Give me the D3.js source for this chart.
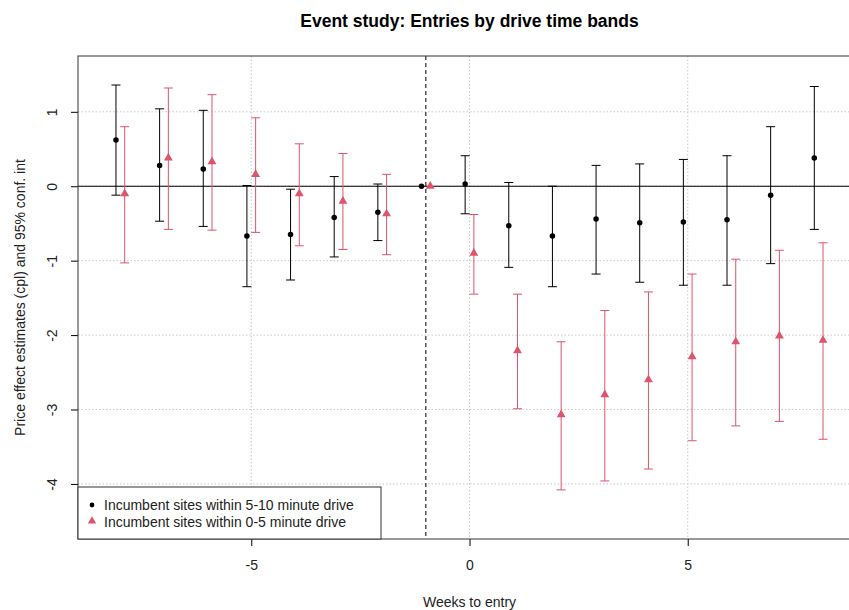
<!DOCTYPE html>
<html>
<head>
<meta charset="utf-8">
<script src="https://cdn.jsdelivr.net/npm/d3@7"></script>
<style>
  body { margin: 0; background: #fff; }
  text { font-family: "Liberation Sans", Arial, sans-serif; }
</style>
</head>
<body>
<script>
// Event study data
var weeks = [-8, -7, -6, -5, -4, -3, -2, -1, 0, 1, 2, 3, 4, 5, 6, 7, 8];

// Incumbent sites within 5-10 minute drive
var farEst = [0.62, 0.28, 0.23, -0.67, -0.65, -0.42, -0.35, 0, 0.03, -0.53, -0.67, -0.44, -0.49, -0.48, -0.45, -0.12, 0.38];
var farLo  = [-0.12, -0.47, -0.54, -1.35, -1.26, -0.95, -0.73, null, -0.37, -1.09, -1.35, -1.18, -1.29, -1.33, -1.33, -1.04, -0.58];
var farHi  = [1.36, 1.04, 1.02, 0.01, -0.04, 0.13, 0.03, null, 0.41, 0.05, 0.0, 0.28, 0.30, 0.36, 0.41, 0.80, 1.34];

// Incumbent sites within 0-5 minute drive
var nearEst = [-0.10, 0.38, 0.33, 0.16, -0.10, -0.20, -0.37, 0, -0.90, -2.21, -3.07, -2.80, -2.60, -2.29, -2.09, -2.01, -2.07];
var nearLo  = [-1.03, -0.58, -0.59, -0.62, -0.80, -0.85, -0.92, null, -1.45, -2.99, -4.08, -3.96, -3.80, -3.42, -3.22, -3.16, -3.40];
var nearHi  = [0.80, 1.32, 1.23, 0.92, 0.57, 0.44, 0.16, null, -0.38, -1.45, -2.09, -1.67, -1.42, -1.18, -0.98, -0.86, -0.76];

var xTicks = [-5, 0, 5];
var yTicks = [1, 0, -1, -2, -3, -4];
var legendLabels = ["Incumbent sites within 5-10 minute drive", "Incumbent sites within 0-5 minute drive"];

var width = 849,
    height = 610;
var margin = {top: 56, right: -12, bottom: 71, left: 78};
var red = "#DF536B";

var svg = d3.select("body").append("svg")
    .attr("width", width)
    .attr("height", height);

var x = d3.scaleLinear()
    .domain([-8.97, 8.97])
    .range([margin.left, width - margin.right]);

var y = d3.scaleLinear()
    .domain([-4.74, 1.75])
    .range([height - margin.bottom, margin.top]);

// grid lines (dotted)
svg.append("g").selectAll("line")
    .data(xTicks)
    .enter().append("line")
    .attr("x1", function(d) { return x(d); })
    .attr("x2", function(d) { return x(d); })
    .attr("y1", y.range()[1])
    .attr("y2", y.range()[0])
    .style("stroke", "#c8c8c8")
    .style("stroke-dasharray", "1.5,2");

svg.append("g").selectAll("line")
    .data(yTicks)
    .enter().append("line")
    .attr("x1", x.range()[0])
    .attr("x2", x.range()[1])
    .attr("y1", function(d) { return y(d); })
    .attr("y2", function(d) { return y(d); })
    .style("stroke", "#c8c8c8")
    .style("stroke-dasharray", "1.5,2");

// zero line and entry marker
svg.append("line")
    .attr("x1", x.range()[0]).attr("x2", x.range()[1])
    .attr("y1", y(0)).attr("y2", y(0))
    .style("stroke", "black");

svg.append("line")
    .attr("x1", x(-1)).attr("x2", x(-1))
    .attr("y1", y.range()[1]).attr("y2", y.range()[0])
    .style("stroke", "black")
    .style("stroke-dasharray", "4,3");

// axes
var xAxis = d3.axisBottom(x).tickValues(xTicks).tickSize(7).tickPadding(14)
    .tickFormat(function(d) { return d; });
var gx = svg.append("g")
    .attr("transform", "translate(0," + y.range()[0] + ")")
    .call(xAxis);
gx.select(".domain").remove();
gx.selectAll("text").style("font-size", "14px").style("fill", "#222");

var yAxis = d3.axisLeft(y).tickValues(yTicks).tickSize(7).tickFormat(function(d) { return d; });
var gy = svg.append("g")
    .attr("transform", "translate(" + x.range()[0] + ",0)")
    .call(yAxis);
gy.select(".domain").remove();
gy.selectAll("text")
    .attr("x", null).attr("dy", null)
    .attr("transform", "translate(-26,0) rotate(-90)")
    .attr("text-anchor", "middle")
    .attr("dominant-baseline", "central")
    .style("font-size", "14px").style("fill", "#222");

// plot frame
svg.append("rect")
    .attr("x", x.range()[0])
    .attr("y", y.range()[1])
    .attr("width", x.range()[1] - x.range()[0])
    .attr("height", y.range()[0] - y.range()[1])
    .style("fill", "none")
    .style("stroke", "#333");

// error bars + points
function drawSeries(est, lo, hi, offset, color, shape) {
  var rows = weeks.map(function(w, i) { return {w: w + offset, est: est[i], lo: lo[i], hi: hi[i]}; });
  var bars = rows.filter(function(d) { return d.lo !== null; });
  var g = svg.append("g").style("stroke", color);
  g.selectAll(".v").data(bars).enter().append("line")
    .attr("x1", function(d) { return x(d.w); })
    .attr("x2", function(d) { return x(d.w); })
    .attr("y1", function(d) { return y(d.lo); })
    .attr("y2", function(d) { return y(d.hi); });
  g.selectAll(".lo").data(bars).enter().append("line")
    .attr("x1", function(d) { return x(d.w) - 4.5; })
    .attr("x2", function(d) { return x(d.w) + 4.5; })
    .attr("y1", function(d) { return y(d.lo); })
    .attr("y2", function(d) { return y(d.lo); });
  g.selectAll(".hi").data(bars).enter().append("line")
    .attr("x1", function(d) { return x(d.w) - 4.5; })
    .attr("x2", function(d) { return x(d.w) + 4.5; })
    .attr("y1", function(d) { return y(d.hi); })
    .attr("y2", function(d) { return y(d.hi); });
  svg.append("g").selectAll("path").data(rows).enter().append("path")
    .attr("d", d3.symbol().type(shape).size(shape === d3.symbolCircle ? 24 : 34))
    .attr("transform", function(d) { return "translate(" + x(d.w) + "," + y(d.est) + ")"; })
    .style("fill", color);
}
drawSeries(farEst, farLo, farHi, -0.1, "black", d3.symbolCircle);
drawSeries(nearEst, nearLo, nearHi, 0.1, red, d3.symbolTriangle);

// legend
var leg = svg.append("g");
leg.append("rect")
    .attr("x", x.range()[0]).attr("y", 487)
    .attr("width", 303).attr("height", y.range()[0] - 487)
    .style("fill", "white").style("stroke", "#333");
leg.append("path")
    .attr("d", d3.symbol().type(d3.symbolCircle).size(18))
    .attr("transform", "translate(92,505)").style("fill", "black");
leg.append("path")
    .attr("d", d3.symbol().type(d3.symbolTriangle).size(30))
    .attr("transform", "translate(92,521)").style("fill", red);
leg.selectAll("text").data(legendLabels).enter().append("text")
    .attr("x", 104)
    .attr("y", function(d, i) { return 510 + i * 16.5; })
    .style("font-size", "14px").style("fill", "#222")
    .text(function(d) { return d; });

// titles
svg.append("text")
    .attr("x", (x.range()[0] + x.range()[1]) / 2).attr("y", 27)
    .attr("text-anchor", "middle")
    .style("font-size", "17.5px").style("font-weight", "bold")
    .text("Event study: Entries by drive time bands");

svg.append("text")
    .attr("x", (x.range()[0] + x.range()[1]) / 2).attr("y", 607)
    .attr("text-anchor", "middle")
    .style("font-size", "14px").style("fill", "#222")
    .text("Weeks to entry");

svg.append("text")
    .attr("transform", "translate(25," + (y.range()[0] + y.range()[1]) / 2 + ") rotate(-90)")
    .attr("text-anchor", "middle")
    .style("font-size", "14px").style("fill", "#222")
    .text("Price effect estimates (cpl) and 95% conf. int");
</script>
</body>
</html>
